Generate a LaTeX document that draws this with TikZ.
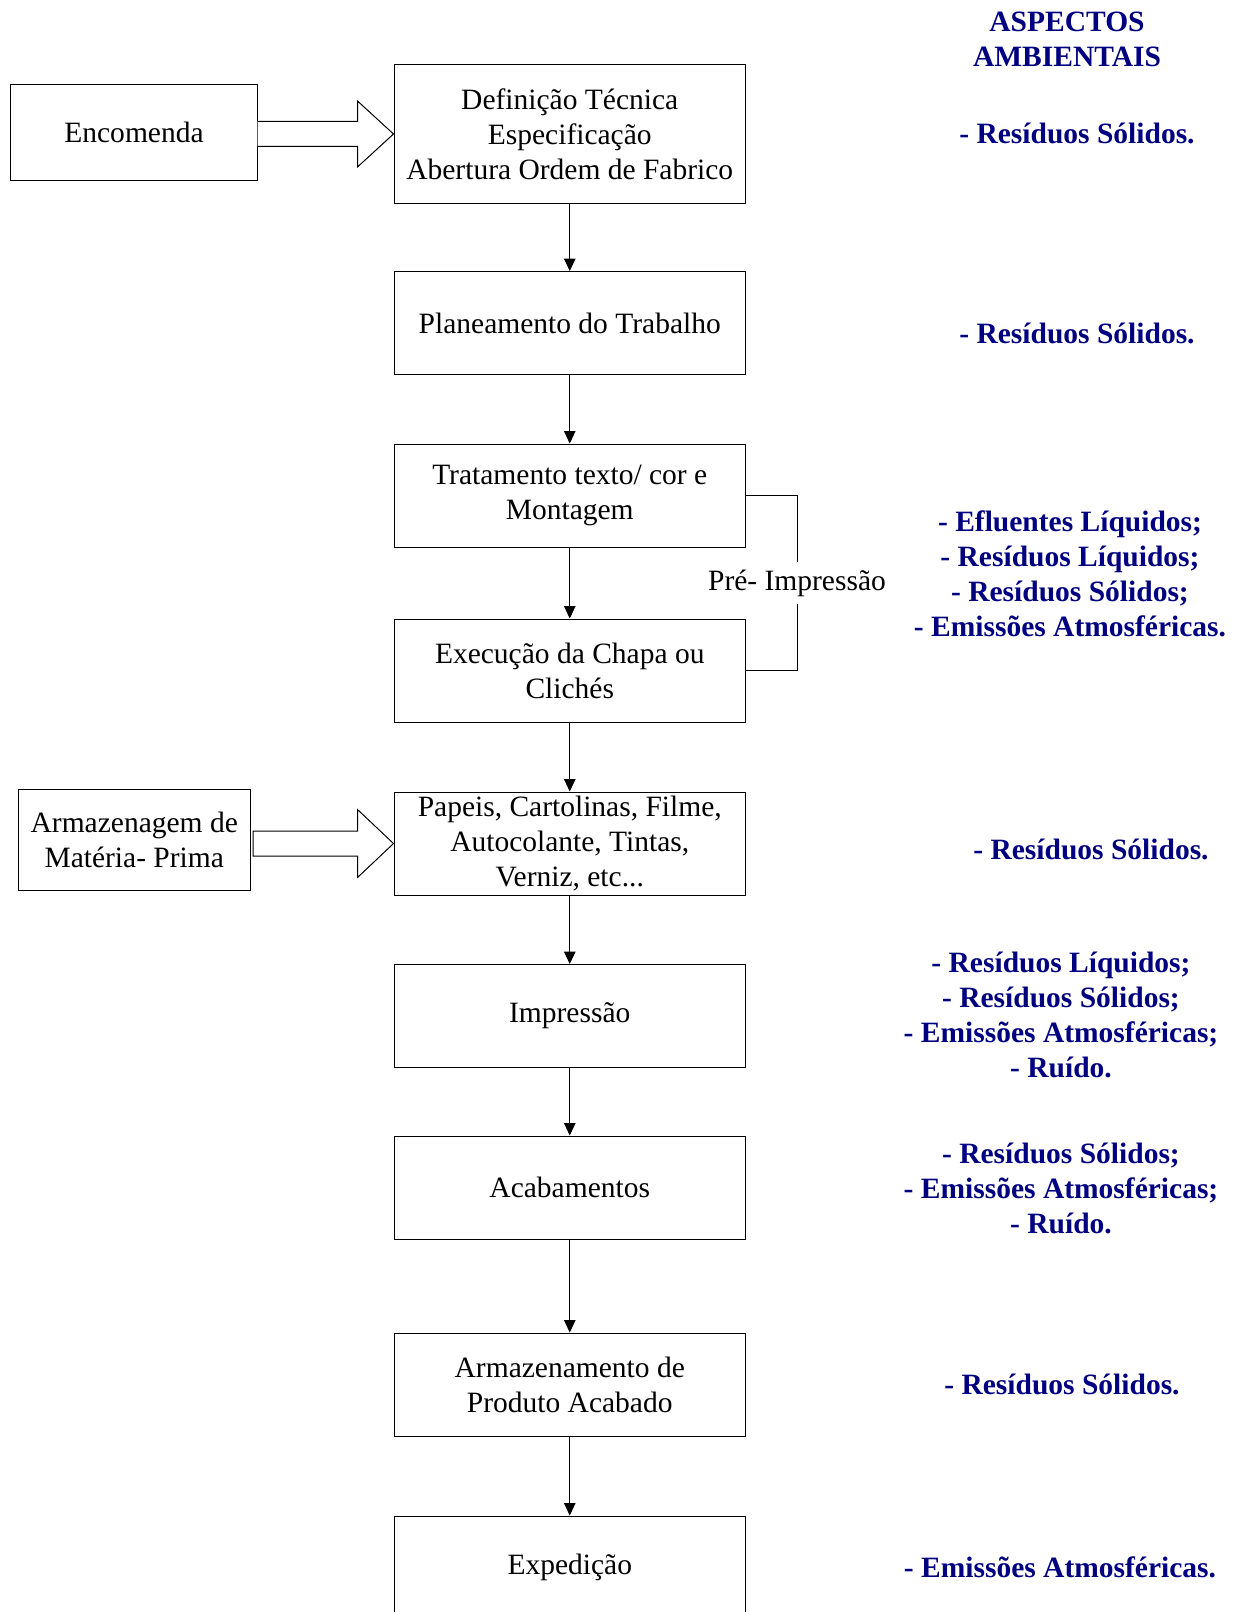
\documentclass[tikz,border=0pt]{standalone}
\usepackage{fontspec}
\setmainfont{Liberation Serif}
\usepackage{tikz}
\usetikzlibrary{arrows.meta, positioning, calc}
\definecolor{navyblue}{RGB}{0,0,128}
\tikzstyle{process} = [rectangle, minimum width=140.6pt, minimum height=41.2pt, inner sep=0pt, text centered, align=center, draw=black, thin, font=\fontsize{11.8}{14}\selectfont]
\tikzstyle{aspect} = [text=navyblue, align=center, inner sep=0pt, font=\bfseries\fontsize{11.8}{14}\selectfont]
\tikzstyle{arrow} = [thin,-{Triangle[length=5pt,width=4.6pt]}]
\tikzstyle{blockarrow} = [thin, draw=black, fill=white]

\begin{document}
\begin{tikzpicture}[x=0.4pt, y=-0.4pt, node distance=27.4pt]
    \useasboundingbox (0,0) rectangle (1237,1612);
    \node (def) [process, minimum height=55.2pt] at (569.75,134) {Definição Técnica\\Especificação\\Abertura Ordem de Fabrico};
    \node (plan) [process, below=27pt of def] {Planeamento do Trabalho};
    \node (trat) [process, below=of plan] {Tratamento texto/ cor e\\Montagem};
    \node (chapa) [process, below=28.4pt of trat] {Execução da Chapa ou\\Clichés};
    \node (papel) [process, below=27.6pt of chapa] {Papeis, Cartolinas, Filme,\\Autocolante, Tintas,\\Verniz, etc...};
    \node (imp) [process, below=of papel] {Impressão};
    \node (acab) [process, below=27pt of imp] {Acabamentos};
    \node (armprod) [process, below=37.2pt of acab] {Armazenamento de\\Produto Acabado};
    \node (exp) [process, below=31.6pt of armprod] {Expedição};
    \node (enc) [process, minimum width=98.4pt, minimum height=38pt] at (134,132.5) {Encomenda};
    \node (armmp) [process, minimum width=92.6pt, minimum height=40.4pt] at (134.25,839.5) {Armazenagem de\\Matéria- Prima};
    \node (pre) [inner sep=3pt, font=\fontsize{11.8}{14}\selectfont] at (797,583) {Pré- Impressão};
    \draw [arrow] (def) -- (plan);
    \draw [arrow] (plan) -- (trat);
    \draw [arrow] (trat) -- (chapa);
    \draw [arrow] (chapa) -- (papel);
    \draw [arrow] (papel) -- (imp);
    \draw [arrow] (imp) -- (acab);
    \draw [arrow] (acab) -- (armprod);
    \draw [arrow] (armprod) -- (exp);
    \draw [thin] (trat.east) -| (pre.north);
    \draw [thin] (chapa.east) -| (pre.south);
    \draw [blockarrow] let \p1=(enc.east), \p2=(def.west) in (\x1,\y2+5pt) -- (\x2-14.4pt,\y2+5pt) -- (\x2-14.4pt,\y2+13.2pt) -- (\x2,\y2) -- (\x2-14.4pt,\y2-13.2pt) -- (\x2-14.4pt,\y2-5pt) -- (\x1,\y2-5pt);
    \draw [blockarrow] let \p1=(armmp.east), \p2=(papel.west) in (\x1+1pt,\y2+5pt) -- (\x2-14.4pt,\y2+5pt) -- (\x2-14.4pt,\y2+13.6pt) -- (\x2,\y2) -- (\x2-14.4pt,\y2-13.6pt) -- (\x2-14.4pt,\y2-5pt) -- (\x1+1pt,\y2-5pt) -- cycle;
    % aspectos ambientais
    \node (title) [aspect] at (1067,39) {ASPECTOS\\AMBIENTAIS};
    \node (asp1) [aspect] at (1077,133) {- Resíduos Sólidos.};
    \node (asp2) [aspect] at (1077,333) {- Resíduos Sólidos.};
    \node (asp3) [aspect] at (1070,573.5) {- Efluentes Líquidos;\\- Resíduos Líquidos;\\- Resíduos Sólidos;\\- Emissões Atmosféricas.};
    \node (asp4) [aspect] at (1091,849) {- Resíduos Sólidos.};
    \node (asp5) [aspect] at (1061,1015) {- Resíduos Líquidos;\\- Resíduos Sólidos;\\- Emissões Atmosféricas;\\- Ruído.};
    \node (asp6) [aspect] at (1061,1188) {- Resíduos Sólidos;\\- Emissões Atmosféricas;\\- Ruído.};
    \node (asp7) [aspect] at (1062,1384) {- Resíduos Sólidos.};
    \node (asp8) [aspect] at (1060,1567) {- Emissões Atmosféricas.};
\end{tikzpicture}
\end{document}
